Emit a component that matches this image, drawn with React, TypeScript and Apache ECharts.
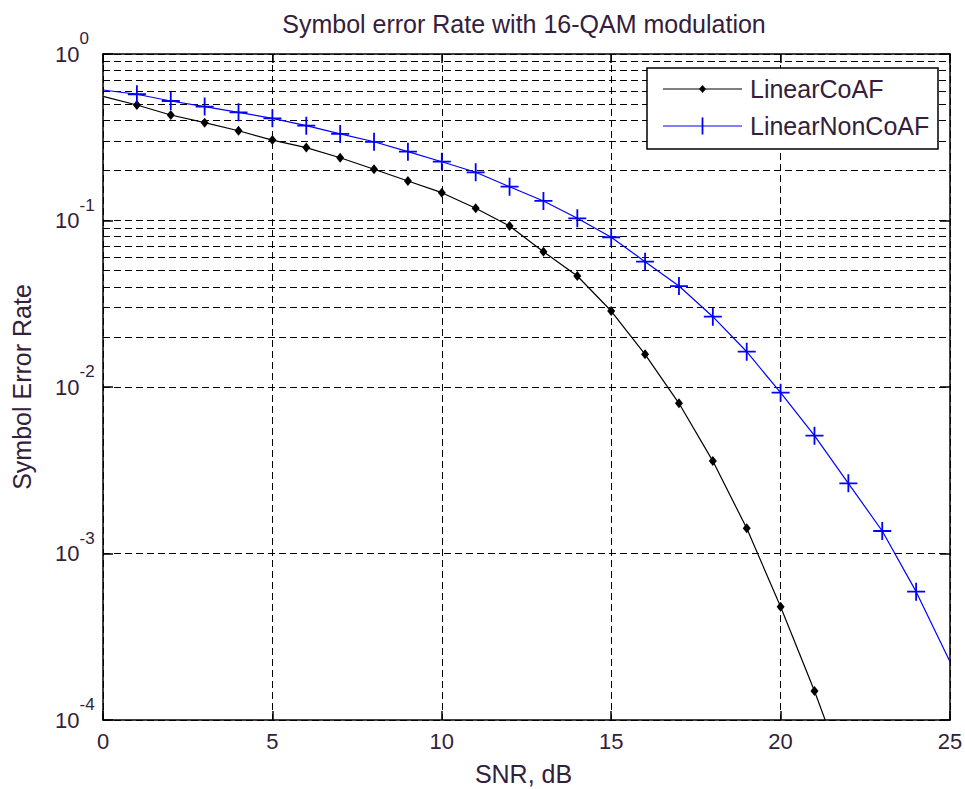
import React, { useEffect, useRef } from "react";
import * as echarts from "echarts";

// ---- data ----
const snrDb = [0, 1, 2, 3, 4, 5, 6, 7, 8, 9, 10, 11, 12, 13, 14, 15, 16, 17, 18, 19, 20, 21, 22, 23, 24, 25];
const linearCoAF = [
  0.556, 0.494, 0.43, 0.387, 0.346, 0.304, 0.274, 0.238, 0.203, 0.1726, 0.1469, 0.1184,
  0.0927, 0.065, 0.0464, 0.0286, 0.01572, 0.00798, 0.00359, 0.001417, 0.000479, 0.0001493, 0.000042,
];
const linearNonCoAF = [
  0.608, 0.573, 0.522, 0.483, 0.4466, 0.411, 0.371, 0.331, 0.297, 0.259, 0.2255, 0.1948,
  0.1596, 0.131, 0.1031, 0.0793, 0.0566, 0.0404, 0.02644, 0.01629, 0.00924, 0.0051, 0.00264,
  0.001365, 0.00059, 0.000224,
];
const xTickValues = [0, 5, 10, 15, 20, 25];
const yDecades = [1e-4, 1e-3, 1e-2, 1e-1, 1];
const minorMultipliers = [2, 3, 4, 5, 6, 7, 8, 9];
const seriesNames = ["LinearCoAF", "LinearNonCoAF"];
const seriesColors = ["#000000", "#0000ff"];
const titleText = "Symbol error Rate with 16-QAM modulation";
const xName = "SNR, dB";
const yName = "Symbol Error Rate";

const FONT = "'Liberation Sans', Arial, sans-serif";
const TXT = "#33203a";
const DASH = [7, 4];

// plus marker in a 20x20 box
const PLUS_PATH =
  "path://M9,0 L11,0 L11,9 L20,9 L20,11 L11,11 L11,20 L9,20 L9,11 L0,11 L0,9 L9,9 Z";
// small diamond inside a 20x20 box (corner points keep the box size)
const DIAMOND_PATH = "path://M0,0 L0,0 M20,20 L20,20 M10,5 L14,10 L10,15 L6,10 Z";

// legend box layout (decoration, not data)
const LEG = { x: 647, y: 68, w: 291, h: 81, lineX0: 663, lineX1: 742, textX: 750, row1: 89, row2: 126 };

export default function App() {
  const ref = useRef<HTMLDivElement>(null);

  useEffect(() => {
    if (!ref.current) return;
    const chart = echarts.init(ref.current, undefined, { renderer: "svg" });

    const coData = linearCoAF.map((v, i) =>
      i === 0 ? { value: [snrDb[i], v], symbol: "none" } : { value: [snrDb[i], v] }
    );
    const nonCoData = linearNonCoAF.map((v, i) =>
      i === 0 || i === linearNonCoAF.length - 1
        ? { value: [snrDb[i], v], symbol: "none" }
        : { value: [snrDb[i], v] }
    );

    const minorLines: any[] = [];
    yDecades.slice(0, -1).forEach((d) => {
      minorMultipliers.forEach((m) => minorLines.push({ yAxis: m * d }));
    });

    const logLabel = (v: number) => {
      const e = Math.round(Math.log10(v));
      return `{b|10}{s|${e}}`;
    };

    const midX = (LEG.lineX0 + LEG.lineX1) / 2;
    const legendGraphic = {
      type: "group",
      z: 100,
      children: [
        {
          type: "rect",
          shape: { x: LEG.x, y: LEG.y, width: LEG.w, height: LEG.h },
          style: { fill: "#ffffff", stroke: "#000000", lineWidth: 1.5 },
          z: 100,
        },
        {
          type: "line",
          shape: { x1: LEG.lineX0, y1: LEG.row1, x2: LEG.lineX1, y2: LEG.row1 },
          style: { stroke: seriesColors[0], lineWidth: 1.2 },
          z: 101,
        },
        {
          type: "polygon",
          shape: {
            points: [
              [midX, LEG.row1 - 4],
              [midX + 3.5, LEG.row1],
              [midX, LEG.row1 + 4],
              [midX - 3.5, LEG.row1],
            ],
          },
          style: { fill: seriesColors[0] },
          z: 101,
        },
        {
          type: "text",
          x: LEG.textX,
          y: LEG.row1,
          style: {
            text: seriesNames[0],
            font: `25px ${FONT}`,
            fill: TXT,
            verticalAlign: "middle",
            align: "left",
          },
          z: 101,
        },
        {
          type: "line",
          shape: { x1: LEG.lineX0, y1: LEG.row2, x2: LEG.lineX1, y2: LEG.row2 },
          style: { stroke: seriesColors[1], lineWidth: 1.2 },
          z: 101,
        },
        {
          type: "line",
          shape: { x1: midX, y1: LEG.row2 - 8.5, x2: midX, y2: LEG.row2 + 8.5 },
          style: { stroke: seriesColors[1], lineWidth: 1.8 },
          z: 101,
        },
        {
          type: "text",
          x: LEG.textX,
          y: LEG.row2,
          style: {
            text: seriesNames[1],
            font: `25px ${FONT}`,
            fill: TXT,
            verticalAlign: "middle",
            align: "left",
          },
          z: 101,
        },
      ],
    };

    const option: any = {
      animation: false,
      backgroundColor: "#ffffff",
      textStyle: { fontFamily: FONT },
      title: {
        text: titleText,
        left: 519,
        top: 6,
        textAlign: "center",
        textStyle: { fontFamily: FONT, fontSize: 25, fontWeight: "normal", color: TXT },
      },
      legend: { show: false, data: seriesNames },
      graphic: [legendGraphic],
      grid: { left: 103, right: 15, top: 54, bottom: 69, containLabel: false, outerBoundsMode: "none" },
      xAxis: [
        {
          type: "value",
          min: 0,
          max: 25,
          interval: 5,
          name: xName,
          nameLocation: "middle",
          nameGap: 41,
          nameTextStyle: { fontFamily: FONT, fontSize: 25, color: TXT, padding: [0, 6, 0, 0] },
          axisLine: { show: true, lineStyle: { color: "#000", width: 1.5 } },
          axisTick: { show: true, inside: true, length: 9, lineStyle: { color: "#000", width: 1.5 } },
          axisLabel: {
            margin: 10,
            fontFamily: FONT,
            fontSize: 22,
            color: TXT,
            customValues: xTickValues,
          },
          splitLine: { show: true, lineStyle: { color: "#000", width: 1, type: DASH } },
        },
        {
          type: "value",
          position: "top",
          min: 0,
          max: 25,
          interval: 5,
          axisLine: { show: true, onZero: false, lineStyle: { color: "#000", width: 1.5 } },
          axisTick: { show: true, inside: true, length: 9, lineStyle: { color: "#000", width: 1.5 } },
          axisLabel: { show: false },
          splitLine: { show: false },
        },
      ],
      yAxis: [
        {
          type: "log",
          logBase: 10,
          min: 1e-4,
          max: 1,
          name: yName,
          nameLocation: "middle",
          nameGap: 69,
          nameRotate: 90,
          nameTextStyle: { fontFamily: FONT, fontSize: 25, color: TXT },
          axisLine: { show: true, onZero: false, lineStyle: { color: "#000", width: 1.5 } },
          axisTick: { show: true, inside: true, length: 10, lineStyle: { color: "#000", width: 1.5 } },
          axisLabel: {
            margin: 48,
            align: "left",
            formatter: logLabel,
            rich: {
              b: { fontFamily: FONT, fontSize: 22, color: TXT, lineHeight: 48 },
              s: { fontFamily: FONT, fontSize: 17, color: TXT, lineHeight: 20, verticalAlign: "top" },
            },
          },
          splitLine: { show: true, lineStyle: { color: "#000", width: 1, type: DASH } },
        },
        {
          type: "log",
          logBase: 10,
          min: 1e-4,
          max: 1,
          position: "right",
          axisLine: { show: true, onZero: false, lineStyle: { color: "#000", width: 1.5 } },
          axisTick: { show: true, inside: true, length: 10, lineStyle: { color: "#000", width: 1.5 } },
          axisLabel: { show: false },
          splitLine: { show: false },
        },
      ],
      series: [
        {
          name: seriesNames[0],
          type: "line",
          xAxisIndex: 0,
          yAxisIndex: 0,
          data: coData,
          symbol: DIAMOND_PATH,
          symbolSize: 20,
          showSymbol: true,
          clip: true,
          color: seriesColors[0],
          lineStyle: { color: seriesColors[0], width: 1.2 },
          itemStyle: { color: seriesColors[0], borderWidth: 0 },
          z: 5,
          markLine: {
            silent: true,
            symbol: ["none", "none"],
            label: { show: false },
            animation: false,
            lineStyle: { color: "#000", width: 1, type: DASH },
            emphasis: { disabled: true },
            data: minorLines,
          },
        },
        {
          name: seriesNames[1],
          type: "line",
          xAxisIndex: 0,
          yAxisIndex: 0,
          data: nonCoData,
          symbol: PLUS_PATH,
          symbolSize: 18,
          showSymbol: true,
          clip: true,
          color: seriesColors[1],
          lineStyle: { color: seriesColors[1], width: 1.2 },
          itemStyle: { color: seriesColors[1], borderWidth: 0 },
          z: 6,
        },
      ],
    };

    chart.setOption(option);
    return () => chart.dispose();
  }, []);

  return (
    <div
      ref={ref}
      style={{ position: "fixed", left: 0, top: 0, width: 965, height: 789, background: "#fff" }}
    />
  );
}
